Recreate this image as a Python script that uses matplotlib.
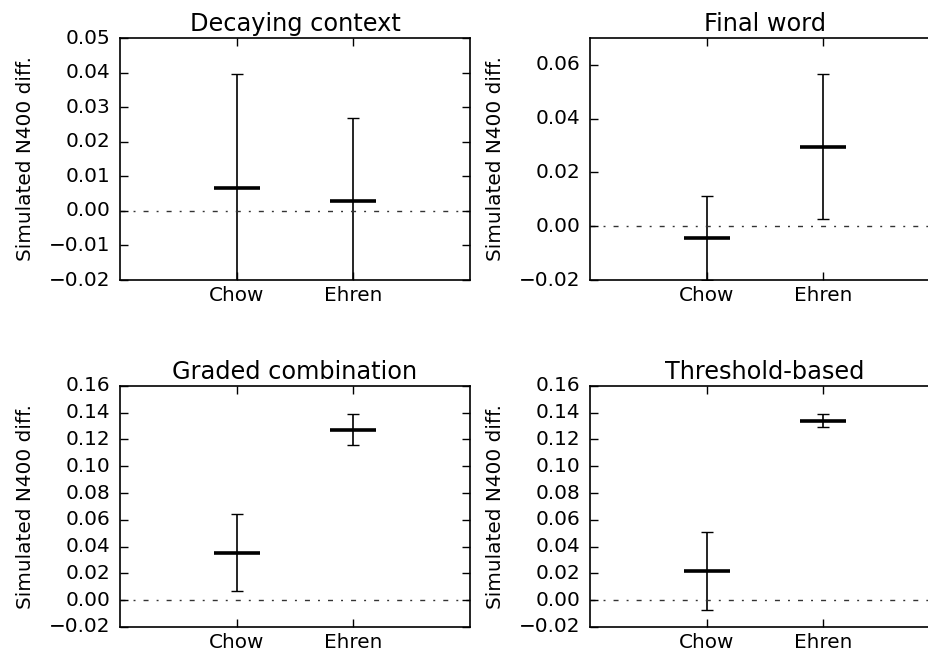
import numpy as np
import matplotlib
matplotlib.use("Agg")
import matplotlib.pyplot as plt
from matplotlib.ticker import FuncFormatter

plt.style.use("classic")

conditions = ["Chow", "Ehren"]
titles = ["Decaying context", "Final word", "Graded combination", "Threshold-based"]

# mean, lower and upper bounds of the interval for Chow / Ehren
means = [
    [0.0065, 0.0030],
    [-0.0045, 0.0295],
    [0.0350, 0.1270],
    [0.0220, 0.1335],
]
lower = [
    [-0.0265, -0.0210],
    [-0.0200, 0.0028],
    [0.0065, 0.1155],
    [-0.0070, 0.1290],
]
upper = [
    [0.0395, 0.0270],
    [0.0113, 0.0565],
    [0.0640, 0.1390],
    [0.0510, 0.1390],
]
ylims = [(-0.02, 0.05), (-0.02, 0.07), (-0.02, 0.16), (-0.02, 0.16)]
ystep = [0.01, 0.02, 0.02, 0.02]

# axes positions in figure fractions (the right column runs off the canvas)
positions = [
    [0.1292, 0.5738, 0.3767, 0.3683],
    [0.6351, 0.5738, 0.3767, 0.3683],
    [0.1292, 0.0457, 0.3767, 0.3670],
    [0.6351, 0.0457, 0.3767, 0.3670],
]


def fmt_tick(v, pos):
    s = "%.2f" % v
    if s == "-0.00":
        s = "0.00"
    return s.replace("-", "\u2212")


fig = plt.figure(figsize=(9.29, 6.57), dpi=100, facecolor="white")

for i in range(4):
    ax = fig.add_axes(positions[i])
    x = np.arange(1, len(conditions) + 1)
    m = np.array(means[i])
    err = [m - np.array(lower[i]), np.array(upper[i]) - m]
    ax.errorbar(x, m, yerr=err, fmt="none", ecolor="black", elinewidth=1.2,
                capsize=4, capthick=1.0)
    ax.plot(x, m, linestyle="none", marker="_", markersize=33,
            markeredgewidth=2.6, color="black")
    ax.axhline(0, color="#333333", linestyle=(0, (3.6, 5.8, 1.4, 5.8)),
               linewidth=1.0)
    ax.set_xlim(0, 3)
    ax.set_ylim(*ylims[i])
    lo, hi = ylims[i]
    ax.set_yticks(np.arange(lo, hi + 1e-9, ystep[i]))
    ax.yaxis.set_major_formatter(FuncFormatter(fmt_tick))
    ax.set_xticks(x)
    ax.set_xticklabels(conditions)
    ax.tick_params(labelsize=14.4, length=6, width=1)
    ax.tick_params(axis="y", pad=7)
    ax.set_title(titles[i], fontsize=17.3)
    ax.set_ylabel("Simulated N400 diff.", fontsize=14.4, labelpad=10)
    for s in ax.spines.values():
        s.set_linewidth(1.2)

fig.savefig("out.png", dpi=100, facecolor="white")
